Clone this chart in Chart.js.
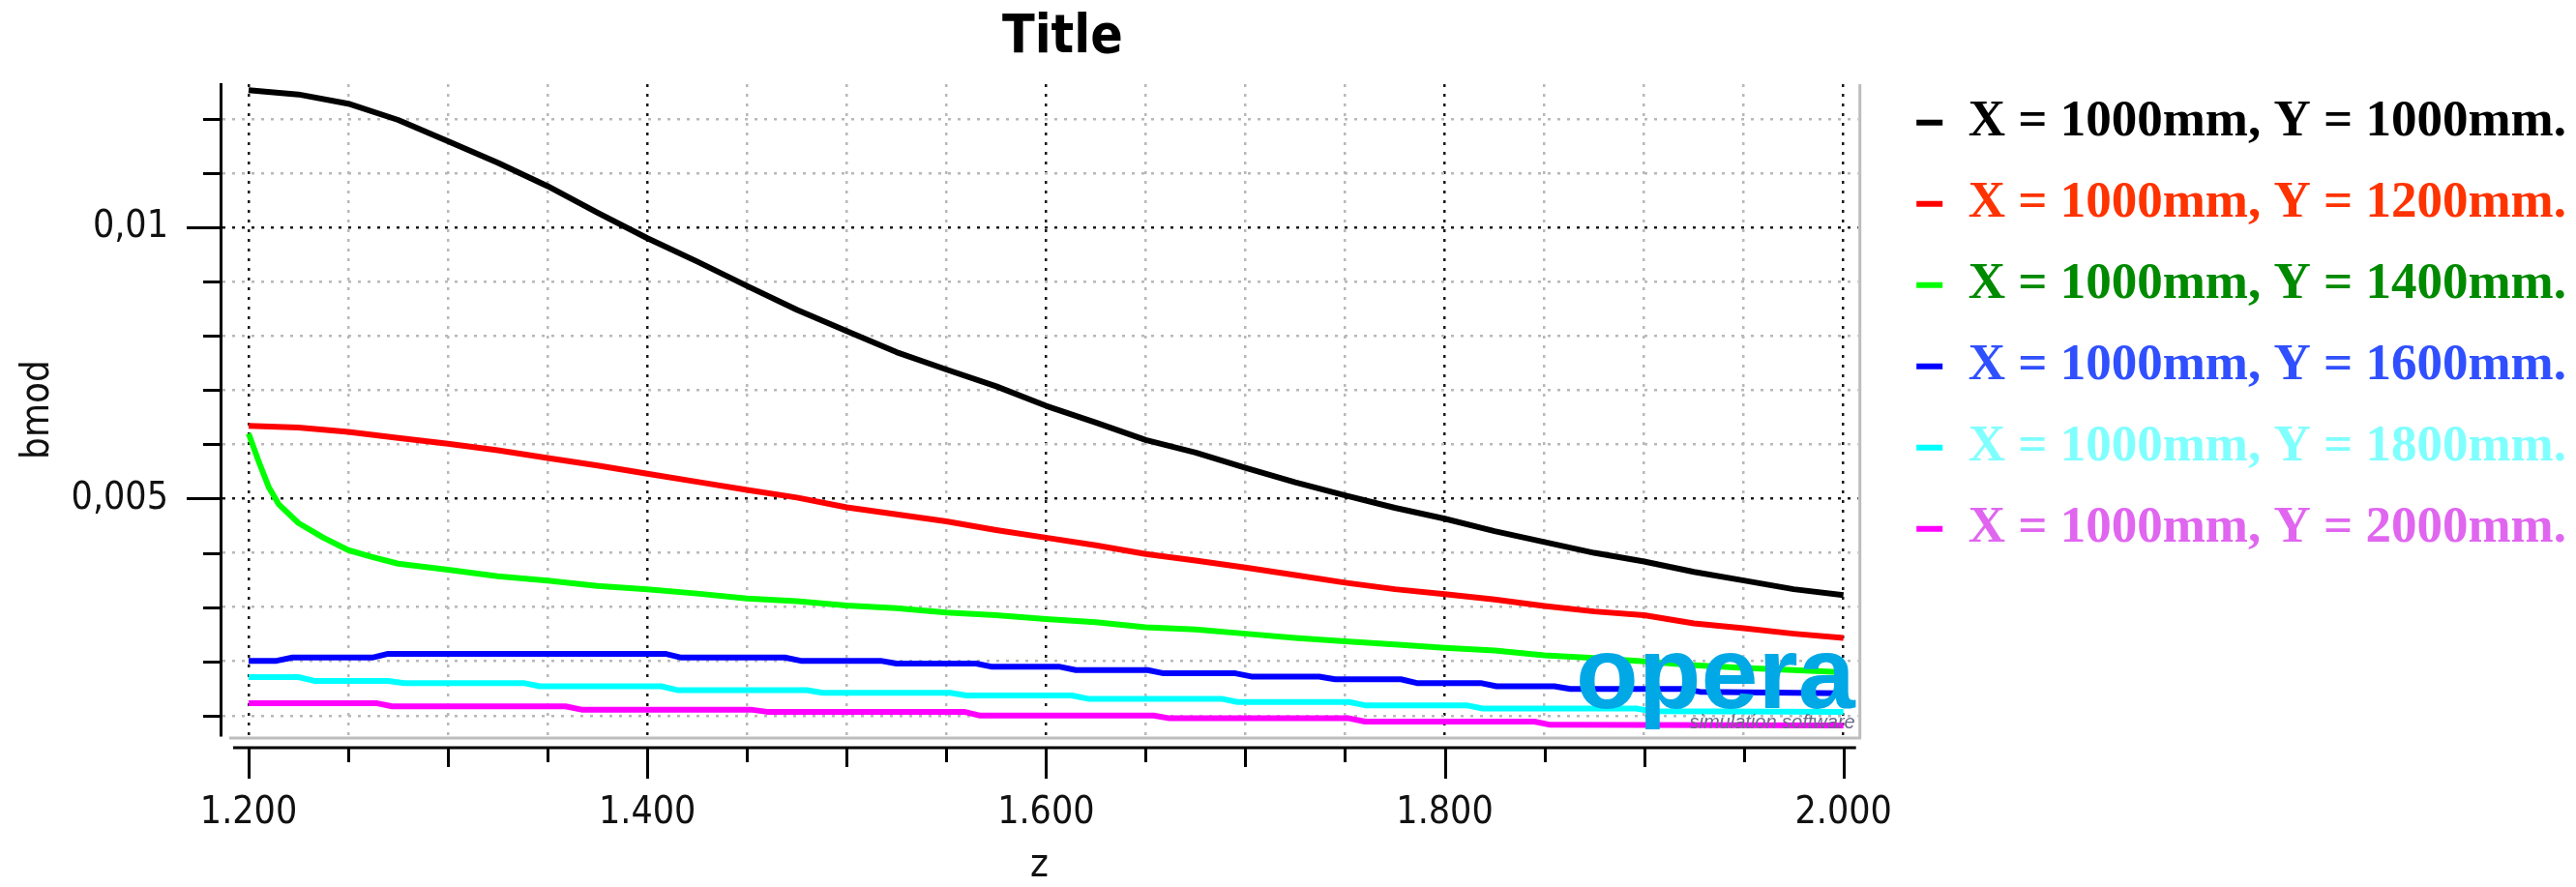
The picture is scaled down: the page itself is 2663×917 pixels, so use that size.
<!DOCTYPE html>
<html>
<head>
<meta charset="utf-8">
<script src="https://cdn.jsdelivr.net/npm/chart.js@4.4.1/dist/chart.umd.min.js"></script>
<style>
  html, body { margin: 0; padding: 0; background: #ffffff; }
  #wrap { width: 2663px; height: 917px; }
</style>
</head>
<body>
<div id="wrap"><canvas id="c" width="2663" height="917"></canvas></div>
<script>
// ---------------- data ----------------
const seriesLabels = [
  'X = 1000mm, Y = 1000mm.',
  'X = 1000mm, Y = 1200mm.',
  'X = 1000mm, Y = 1400mm.',
  'X = 1000mm, Y = 1600mm.',
  'X = 1000mm, Y = 1800mm.',
  'X = 1000mm, Y = 2000mm.'
];
const lineColors = ['#000000', '#ff0000', '#00ff00', '#0000ff', '#00ffff', '#ff00ff'];
const legendTextColors = ['#000000', '#ff3300', '#008a00', '#3050ff', '#80ffff', '#e066f0'];

const zGrid = [1.2, 1.225, 1.25, 1.275, 1.3, 1.325, 1.35, 1.375, 1.4, 1.425, 1.45, 1.475,
  1.5, 1.525, 1.55, 1.575, 1.6, 1.625, 1.65, 1.675, 1.7, 1.725, 1.75, 1.775,
  1.8, 1.825, 1.85, 1.875, 1.9, 1.925, 1.95, 1.975, 2.0];

const bmodY1000 = [0.01253, 0.01245, 0.01228, 0.01198, 0.01159, 0.01119, 0.01076, 0.01027,
  0.0098, 0.00937, 0.00892, 0.00848, 0.00809, 0.0077, 0.00738, 0.00707, 0.00671, 0.0064,
  0.00608, 0.00585, 0.00557, 0.0053, 0.00506, 0.00483, 0.00463, 0.0044, 0.0042, 0.004,
  0.00384, 0.00365, 0.00349, 0.00333, 0.00322];

const bmodY1200 = [0.00634, 0.00631, 0.00623, 0.00612, 0.00601, 0.00589, 0.00575, 0.00561,
  0.00546, 0.00531, 0.00516, 0.00502, 0.00484, 0.00471, 0.00458, 0.00442, 0.00428, 0.00414,
  0.00398, 0.00386, 0.00373, 0.00359, 0.00345, 0.00333, 0.00324, 0.00314, 0.00302, 0.00292,
  0.00285, 0.0027, 0.00261, 0.00251, 0.00243];

const zY1400 = [1.2, 1.205, 1.21, 1.215, 1.225, 1.2375, 1.25, 1.2625, 1.275, 1.3, 1.325, 1.35,
  1.375, 1.4, 1.425, 1.45, 1.475, 1.5, 1.525, 1.55, 1.575, 1.6, 1.625, 1.65, 1.675, 1.7,
  1.725, 1.75, 1.775, 1.8, 1.825, 1.85, 1.875, 1.9, 1.925, 1.95, 1.975, 2.0];
const bmodY1400 = [0.0062, 0.00569, 0.00522, 0.0049, 0.00455, 0.00428, 0.00405, 0.00392, 0.0038,
  0.00369, 0.00357, 0.00349, 0.00339, 0.00333, 0.00325, 0.00316, 0.00311, 0.00303, 0.00298,
  0.0029, 0.00285, 0.00278, 0.00272, 0.00263, 0.00259, 0.00251, 0.00243, 0.00237, 0.00231,
  0.00225, 0.0022, 0.00211, 0.00206, 0.002, 0.00193, 0.00188, 0.00184, 0.0018];

const pointsY1600 = [[1.2, 0.00201], [1.214, 0.00201], [1.222, 0.00207], [1.262, 0.00207],
  [1.27, 0.00214], [1.409, 0.00214], [1.417, 0.00207], [1.469, 0.00207], [1.477, 0.00201],
  [1.517, 0.00201], [1.525, 0.00196], [1.565, 0.00196], [1.573, 0.0019], [1.607, 0.0019],
  [1.615, 0.00184], [1.651, 0.00184], [1.659, 0.00178], [1.695, 0.00178], [1.703, 0.00172],
  [1.737, 0.00172], [1.745, 0.00167], [1.778, 0.00167], [1.786, 0.0016], [1.818, 0.0016],
  [1.826, 0.00154], [1.855, 0.00154], [1.863, 0.00149], [1.92, 0.00149], [1.928, 0.00144],
  [2.0, 0.00141]];

const pointsY1800 = [[1.2, 0.00171], [1.225, 0.00171], [1.233, 0.00164], [1.27, 0.00164],
  [1.278, 0.0016], [1.338, 0.0016], [1.346, 0.00154], [1.407, 0.00154], [1.415, 0.00147],
  [1.48, 0.00147], [1.488, 0.00142], [1.552, 0.00142], [1.56, 0.00137], [1.613, 0.00137],
  [1.621, 0.00131], [1.688, 0.00131], [1.696, 0.00125], [1.752, 0.00125], [1.76, 0.00119],
  [1.811, 0.00119], [1.819, 0.00113], [1.896, 0.00113], [1.904, 0.00108], [2.0, 0.00107]];

const pointsY2000 = [[1.2, 0.00123], [1.264, 0.00123], [1.272, 0.00117], [1.359, 0.00117],
  [1.367, 0.00111], [1.452, 0.00111], [1.46, 0.00107], [1.559, 0.00107], [1.567, 0.001],
  [1.654, 0.001], [1.662, 0.00095], [1.752, 0.00095], [1.76, 0.00089], [1.845, 0.00089],
  [1.853, 0.00083], [2.0, 0.00082]];

const xTickValues = [1.2, 1.25, 1.3, 1.35, 1.4, 1.45, 1.5, 1.55, 1.6, 1.65, 1.7, 1.75,
  1.8, 1.85, 1.9, 1.95, 2.0];
const yTickValues = [0.001, 0.002, 0.003, 0.004, 0.005, 0.006, 0.007, 0.008, 0.009,
  0.01, 0.011, 0.012];

// ---------------- helpers ----------------
const isMajorX = v => Math.round(v * 1000) % 200 === 0;
const isMidX = v => Math.round(v * 1000) % 100 === 0;
const isMajorY = v => Math.round(v * 1e6) % 5000 === 0;
const pairs = (xs, ys) => xs.map((x, i) => ({ x: x, y: ys[i] }));
const fromPairs = arr => arr.map(p => ({ x: p[0], y: p[1] }));

const seriesData = [
  pairs(zGrid, bmodY1000),
  pairs(zGrid, bmodY1200),
  pairs(zY1400, bmodY1400),
  fromPairs(pointsY1600),
  fromPairs(pointsY1800),
  fromPairs(pointsY2000)
];

const tickFont = { family: "'DejaVu Sans Condensed', 'DejaVu Sans', sans-serif", size: 39 };
const titleFamily = "'DejaVu Sans Condensed', 'DejaVu Sans', sans-serif";

// ---------------- plugins ----------------
const titleShift = {
  id: 'titleShift',
  afterLayout(chart) {
    const t = chart.titleBlock;
    if (t) { t.left += 48; }
  }
};

const axisDeco = {
  id: 'axisDeco',
  afterDraw(chart) {
    const { ctx, chartArea: a, scales } = chart;
    const x = scales.x, y = scales.y;
    ctx.save();
    // light grey plot frame (right + bottom)
    ctx.strokeStyle = '#bdbdbd';
    ctx.lineWidth = 3;
    ctx.beginPath();
    ctx.moveTo(a.left + 9, a.bottom + 3);
    ctx.lineTo(a.right + 2, a.bottom + 3);
    ctx.lineTo(a.right + 2, a.top);
    ctx.stroke();
    // detached x axis line
    const axY = a.bottom + 13;
    ctx.strokeStyle = '#000';
    ctx.lineWidth = 3;
    ctx.beginPath();
    ctx.moveTo(a.left + 13, axY);
    ctx.lineTo(a.right - 2, axY);
    ctx.stroke();
    // x tick marks
    xTickValues.forEach(v => {
      const px = Math.round(x.getPixelForValue(v)) + 0.5;
      const len = isMajorX(v) ? 32 : (isMidX(v) ? 20 : 15);
      ctx.beginPath();
      ctx.moveTo(px, axY);
      ctx.lineTo(px, axY + len);
      ctx.stroke();
    });
    // y tick marks
    yTickValues.forEach(v => {
      const py = Math.round(y.getPixelForValue(v)) + 0.5;
      const len = isMajorY(v) ? 35 : 18;
      ctx.beginPath();
      ctx.moveTo(a.left - len, py);
      ctx.lineTo(a.left, py);
      ctx.stroke();
    });
    ctx.restore();
  }
};

const logo = {
  id: 'logo',
  afterDatasetsDraw(chart) {
    const { ctx, chartArea: a } = chart;
    ctx.save();
    ctx.textAlign = 'right';
    ctx.textBaseline = 'alphabetic';
    ctx.font = "bold 106px 'Liberation Sans', Arial, sans-serif";
    ctx.fillStyle = '#00a8e6';
    ctx.fillText('opera', a.right - 3, a.bottom - 28);
    ctx.font = "italic 20px 'Liberation Sans', Arial, sans-serif";
    ctx.fillStyle = '#6a6a88';
    ctx.fillText('simulation software', a.right - 3, a.bottom - 7);
    ctx.restore();
  }
};

// ---------------- chart ----------------
new Chart(document.getElementById('c'), {
  type: 'line',
  data: {
    datasets: seriesData.map((d, i) => ({
      label: seriesLabels[i],
      data: d,
      borderColor: lineColors[i],
      backgroundColor: lineColors[i],
      borderWidth: 6,
      pointRadius: 0,
      tension: 0,
      borderJoinStyle: 'round',
      fill: false
    }))
  },
  options: {
    responsive: false,
    devicePixelRatio: 1,
    animation: false,
    layout: { padding: 0 },
    plugins: {
      tooltip: { enabled: false },
      title: {
        display: true,
        text: 'Title',
        fullSize: false,
        color: '#000',
        font: { family: titleFamily, size: 55, weight: 'bold' },
        padding: { top: 7, bottom: 14 }
      },
      legend: {
        display: true,
        position: 'right',
        align: 'start',
        maxWidth: 900,
        title: { display: true, text: '', font: { size: 1 }, padding: { top: 68, bottom: 0 } },
        labels: {
          usePointStyle: true,
          pointStyle: 'line',
          pointStyleWidth: 27,
          padding: 31,
          font: { family: "'Liberation Serif', 'Times New Roman', serif", size: 53, weight: 'bold' },
          generateLabels(chart) {
            const items = Chart.defaults.plugins.legend.labels.generateLabels(chart);
            items.forEach((it, i) => {
              it.fontColor = legendTextColors[i];
              it.strokeStyle = lineColors[i];
              it.fillStyle = lineColors[i];
              it.lineWidth = 6;
              it.pointStyle = 'line';
            });
            return items;
          }
        }
      }
    },
    scales: {
      x: {
        type: 'linear',
        position: 'bottom',
        min: 1.18592,
        max: 2.00728,
        afterBuildTicks(scale) { scale.ticks = xTickValues.map(v => ({ value: v })); },
        afterFit(scale) { scale.height = 157; },
        grid: {
          drawTicks: false,
          lineWidth: 2.5,
          color: c => (c.tick && isMajorX(c.tick.value)) ? '#1a1a1a' : '#b8b8b8'
        },
        border: { display: false, dash: [3, 7] },
        ticks: {
          autoSkip: false,
          maxRotation: 0,
          minRotation: 0,
          padding: 57.6,
          color: '#111',
          font: tickFont,
          callback: v => isMajorX(v) ? Number(v).toFixed(3) : ''
        },
        title: {
          display: true,
          text: 'z',
          color: '#111',
          font: { family: titleFamily, size: 40 },
          padding: { top: 0, bottom: -3 }
        }
      },
      y: {
        type: 'linear',
        position: 'left',
        min: 0.00064,
        max: 0.01264,
        afterBuildTicks(scale) { scale.ticks = yTickValues.map(v => ({ value: v })); },
        afterFit(scale) { scale.width = 228; },
        grid: {
          drawTicks: false,
          lineWidth: 2.5,
          color: c => (c.tick && isMajorY(c.tick.value)) ? '#1a1a1a' : '#b8b8b8'
        },
        border: { display: true, color: '#000', width: 3, dash: [3, 7] },
        ticks: {
          padding: 54,
          color: '#111',
          font: tickFont,
          callback: v => isMajorY(v) ? String(Number(Number(v).toFixed(6))).replace('.', ',') : ''
        },
        title: {
          display: true,
          text: 'bmod',
          color: '#111',
          font: { family: titleFamily, size: 40 },
          padding: { top: 16, bottom: 0 }
        }
      },
      yGap: {
        type: 'linear',
        position: 'right',
        display: true,
        min: 0,
        max: 1,
        afterFit(scale) { scale.width = 29.5; },
        grid: { display: false, drawTicks: false },
        border: { display: false },
        ticks: { display: false }
      }
    }
  },
  plugins: [titleShift, axisDeco, logo]
});
</script>
</body>
</html>
